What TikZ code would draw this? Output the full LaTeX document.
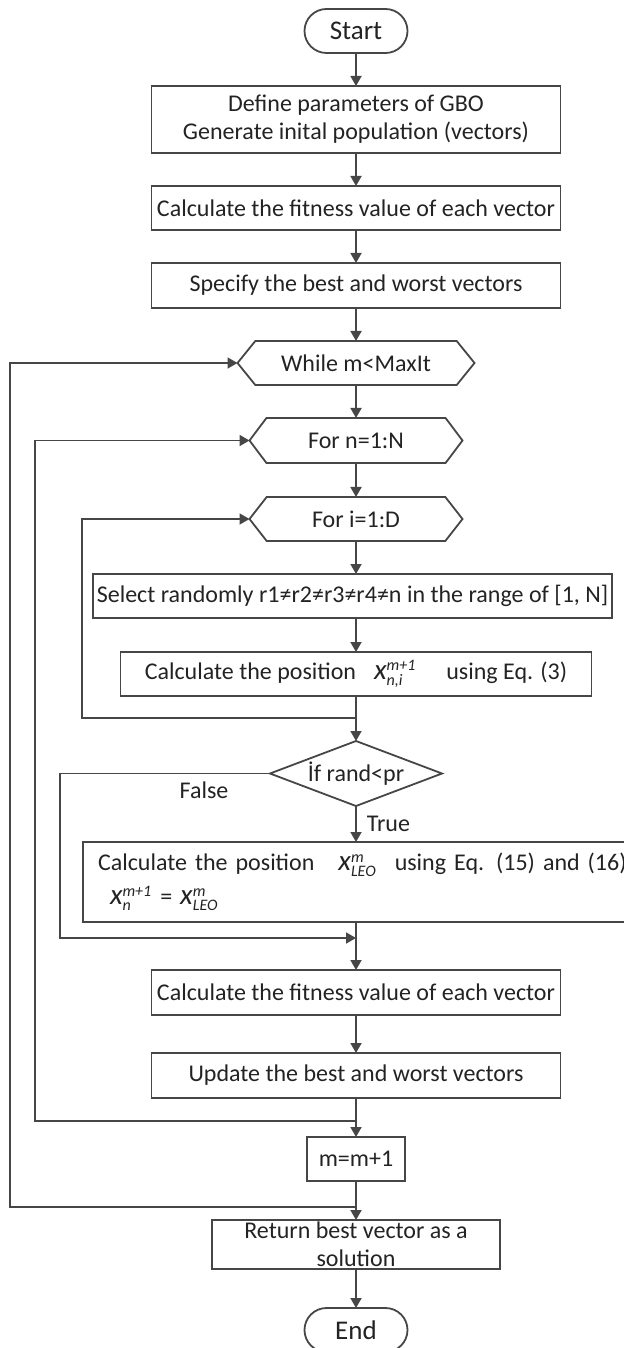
\documentclass[tikz,border=0pt]{standalone}
\usepackage{amsmath}
\usepackage{fontspec}
\setmainfont{Carlito}
\usepackage{tikz}
\usetikzlibrary{shapes.geometric, shapes.symbols, arrows.meta, positioning, calc}
\definecolor{linegray}{RGB}{70,70,70}
\definecolor{txtgray}{RGB}{35,35,35}
\newcommand{\xpos}[2]{$\textit{\fontsize{14.5}{15}\selectfont x}^{\textit{#1}}_{\textit{#2}}$}
\tikzset{
  termbox/.style={rectangle, draw=linegray, rounded corners=11pt,
    minimum width=51.5pt, minimum height=22pt, inner sep=0pt, outer sep=0pt,
    font=\fontsize{13.5}{15}\selectfont, text=txtgray, line width=0.9pt},
  procbox/.style={rectangle, draw=linegray, minimum width=204.5pt,
    minimum height=22.5pt, inner sep=0pt, outer sep=0pt, align=center,
    font=\fontsize{12}{14}\selectfont, text=txtgray, line width=0.9pt},
  loopbox/.style={signal, signal to=west and east, draw=linegray,
    minimum height=22pt, inner sep=0pt, outer sep=0pt,
    font=\fontsize{12}{14}\selectfont, text=txtgray, line width=0.9pt},
  decbox/.style={diamond, aspect=2.65, draw=linegray,
    minimum width=86pt, minimum height=32.5pt, inner sep=0pt, outer sep=0pt,
    font=\fontsize{12}{14}\selectfont, text=txtgray, line width=0.9pt},
  arrow/.style={-{Triangle[length=5pt, width=5.5pt]}, line width=0.9pt, color=linegray},
  line/.style={line width=0.9pt, color=linegray},
  lbl/.style={font=\fontsize{12}{14}\selectfont, text=txtgray, inner sep=0pt}
}

\begin{document}
\begin{tikzpicture}[x=0.5pt, y=0.5pt, node distance=16.5pt]
  \useasboundingbox (0,0) rectangle (624,-1348);

  % Main column
  \node[termbox] (start) at (356,-31) {Start};
  \node[procbox, minimum height=33.5pt, below=of start] (init) {Define parameters of GBO\\Generate inital population (vectors)};
  \node[procbox, minimum height=22pt, below=of init] (fit1) {Calculate the fitness value of each vector};
  \node[procbox, below=of fit1] (spec) {Specify the best and worst vectors};
  \node[loopbox, minimum width=118.5pt, signal pointer angle=102, below=of spec] (while) {While m<MaxIt};
  \node[loopbox, minimum width=106.5pt, minimum height=22.5pt, signal pointer angle=106, below=of while] (forn) {For n=1:N};
  \node[loopbox, minimum width=106.5pt, signal pointer angle=104, below=17pt of forn] (fori) {For i=1:D};
  \node[procbox, minimum width=259.5pt, minimum height=22pt, below=of fori, xshift=-1.75pt] (select) {Select randomly r1≠r2≠r3≠r4≠n in the range of [1, N]};
  \node[procbox, minimum width=235.5pt, minimum height=22pt, below=17pt of select, xshift=1.75pt] (calcx) {Calculate the position\hspace{9pt}\xpos{m+1}{n,i}\hspace{15pt}using Eq. (3)};

  % Decision
  \node[decbox, below=22.5pt of calcx] (ifrand) {İf rand<pr};
  \node[procbox, minimum width=273pt, minimum height=40pt, text width=264pt, align=left, below=18pt of ifrand] (leo) {\makebox[264pt][l]{\hspace*{3pt}Calculate the position\hspace{12pt}\xpos{m}{LEO}\hspace{9pt}using Eq. (15) and (16)}\\[3pt]\makebox[264pt][l]{\hspace*{9pt}\xpos{m+1}{n} = \xpos{m}{LEO}}};

  % Lower column
  \node[procbox, below=24pt of leo] (fit2) {Calculate the fitness value of each vector};
  \node[procbox, below=19pt of fit2] (update) {Update the best and worst vectors};
  \node[procbox, minimum width=49pt, minimum height=22pt, below=19.5pt of update] (incr) {m=m+1};
  \node[procbox, minimum width=144pt, minimum height=24.5pt, inner ysep=-1pt, below=19.5pt of incr] (ret) {Return best vector as a\\solution};
  \node[termbox, below=19.5pt of ret] (end) {End};

  % Loop columns and junctions
  \coordinate (xout) at (10,0);
  \coordinate (xmid) at (35,0);
  \coordinate (xfalse) at (60,0);
  \coordinate (xin) at (82,0);
  \coordinate (jin) at ($(calcx.south)+(0,-22)$);
  \coordinate (jfalse) at ($(leo.south)+(0,-16)$);
  \coordinate (jmid) at ($(update.south)+(0,-23)$);
  \coordinate (jout) at ($(incr.south)+(0,-26)$);

  % Connectors
  \draw[arrow] (start) -- (init);
  \draw[arrow] (init) -- (fit1);
  \draw[arrow] (fit1) -- (spec);
  \draw[arrow] (spec) -- (while);
  \draw[arrow] (while) -- (forn);
  \draw[arrow] (forn) -- (fori);
  \draw[arrow] (fori.south) -- (fori.south |- select.north);
  \draw[arrow] (calcx.north |- select.south) -- (calcx.north);
  \draw[arrow] (calcx) -- (ifrand);
  \draw[arrow] (jin) -- (jin -| xin) |- (fori.west);
  \draw[arrow] (ifrand) -- node[lbl, right=5pt] (tlabel) {True} (leo);
  \draw[arrow] (ifrand.west) -- (ifrand.west -| xfalse) |- (jfalse);
  \node[lbl] (flabel) at ($(ifrand.west)+(-66,-17)$) {False};
  \draw[arrow] (leo) -- (fit2);
  \draw[arrow] (fit2) -- (update);
  \draw[arrow] (update) -- (incr);
  \draw[arrow] (jmid) -- (jmid -| xmid) |- (forn.west);
  \draw[arrow] (incr) -- (ret);
  \draw[arrow] (jout) -- (jout -| xout) |- (while.west);
  \draw[arrow] (ret) -- (end);
\end{tikzpicture}
\end{document}
